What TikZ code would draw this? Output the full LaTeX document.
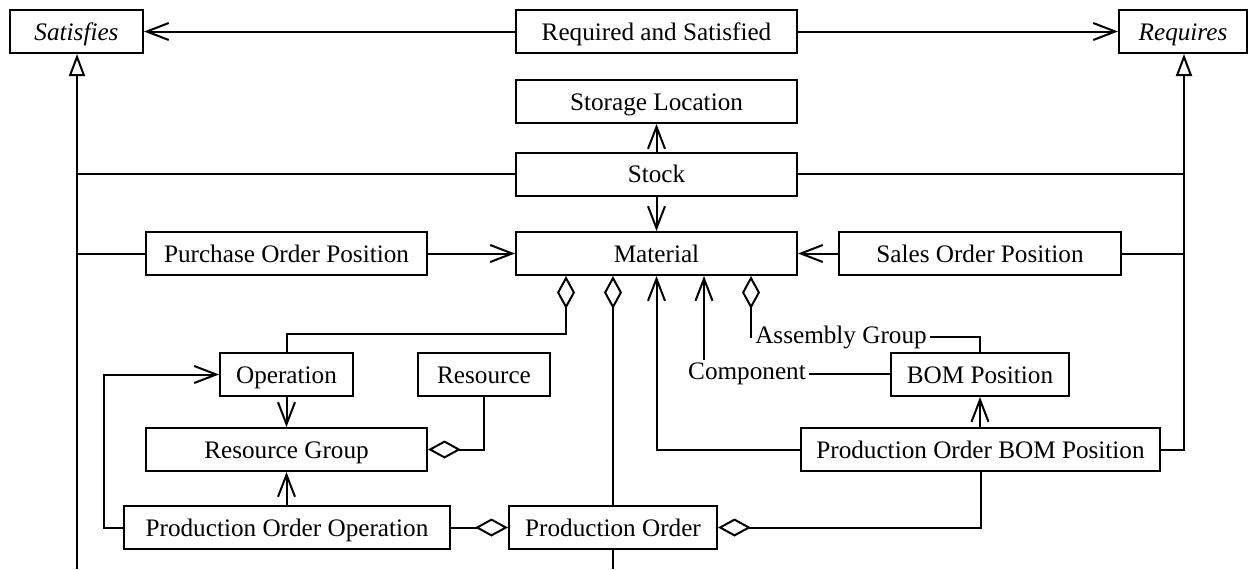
\documentclass[tikz,border=0pt]{standalone}
\usepackage{fontspec}
\setmainfont{Liberation Serif}
\usetikzlibrary{arrows.meta}
\tikzset{
  box/.style={draw, line width=1pt, minimum height=21.5pt, inner sep=0pt, text height=10pt, text depth=1.5pt, font=\fontsize{12.6}{15}\selectfont},
  lbl/.style={inner sep=1.5pt, font=\fontsize{12.6}{15}\selectfont},
  conn/.style={line width=1pt},
  arr/.style={conn, -{Straight Barb[length=11pt,width=8.5pt]}},
  gen/.style={conn, -{Triangle[open,length=11pt,width=8pt,fill=white]}},
  agg/.style={conn, -{Diamond[open,length=16.5pt,width=9pt,fill=white]}}
}
\begin{document}
\begin{tikzpicture}[x=0.5pt,y=-0.5pt]
\useasboundingbox (0,0) rectangle (1248,569);
% nodes
\node[box, minimum width=66.5pt]  (sat)   at (76.5,31.5)  {\itshape Satisfies};
\node[box, minimum width=140.5pt] (ras)   at (656.5,31.5) {Required and Satisfied};
\node[box, minimum width=64pt]    (req)   at (1183,31.5)  {\itshape Requires};
\node[box, minimum width=140.5pt] (stl)   at (656.5,101.5) {Storage Location};
\node[box, minimum width=140.5pt] (stock) at (656.5,174)  {Stock};
\node[box, minimum width=140.5pt] (mat)   at (656.5,253.5) {Material};
\node[box, minimum width=140.5pt] (pop)   at (286.5,253.5) {Purchase Order Position};
\node[box, minimum width=141pt]   (sop)   at (980,253.5)  {Sales Order Position};
\node[box, minimum width=66.5pt]  (op)    at (286.5,374.5) {Operation};
\node[box, minimum width=66pt]    (res)   at (484,374.5)  {Resource};
\node[box, minimum width=140.5pt] (rg)    at (286.5,449.5) {Resource Group};
\node[box, minimum width=89pt]    (bom)   at (980,374.5)  {BOM Position};
\node[box, minimum width=179.5pt] (pobom) at (980.5,449.5) {Production Order BOM Position};
\node[box, minimum width=163pt]   (poo)   at (287,527.5)  {Production Order Operation};
\node[box, minimum width=104pt]   (po)    at (613,527.5)  {Production Order};
\node[lbl] (comp) at (747,374) {Component};
\node[lbl] (asm)  at (841,337) {Assembly Group};
\coordinate (satbot) at (77,569);
\coordinate (reqj) at (1184,449.5);
\coordinate (pobot) at (613,569);
% top row
\draw[arr] (ras.west) -- (sat.east);
\draw[arr] (ras.east) -- (req.west);
% generalizations
\draw[gen] (satbot) -- (satbot |- sat.south);
\draw[conn] (stock.west) -- (stock.west -| satbot);
\draw[conn] (pop.west) -- (pop.west -| satbot);
\draw[gen] (pobom.east) -- (reqj) -- (reqj |- req.south);
\draw[conn] (stock.east) -- (stock.east -| reqj);
\draw[conn] (sop.east) -- (sop.east -| reqj);
% stock
\draw[arr] (stock.north) -- (stl.south);
\draw[arr] (stock.south) -- (mat.north);
% positions
\draw[arr] (pop.east) -- (mat.west);
\draw[arr] (sop.west) -- (mat.east);
% material aggregations
\draw[agg] (op.north) |- (566,334) -- (566,0 |- mat.south);
\draw[agg] (po.north) -- (po.north |- mat.south);
\draw[conn] (po.south) -- (pobot);
\draw[arr] (pobom.west) -| (mat.south);
\draw[conn] (comp.east) -- (comp.east -| bom.west);
\draw[arr] (comp.north -| 704,0) -- (704,0 |- mat.south);
\draw[agg] (asm.west) -| (751,0 |- mat.south);
\draw[conn] (asm.east) -| (bom.north);
% resources
\draw[agg] (res.south) |- (rg.east);
\draw[arr] (op.south) -- (rg.north);
\draw[arr] (rg.south |- poo.north) -- (rg.south);
\draw[arr] (poo.west) -- (104,0 |- poo.west) |- (op.west);
% production order
\draw[agg] (poo.east) -- (po.west);
\draw[agg] (pobom.south) |- (po.east);
\draw[arr] (bom.south |- pobom.north) -- (bom.south);
\end{tikzpicture}
\end{document}
